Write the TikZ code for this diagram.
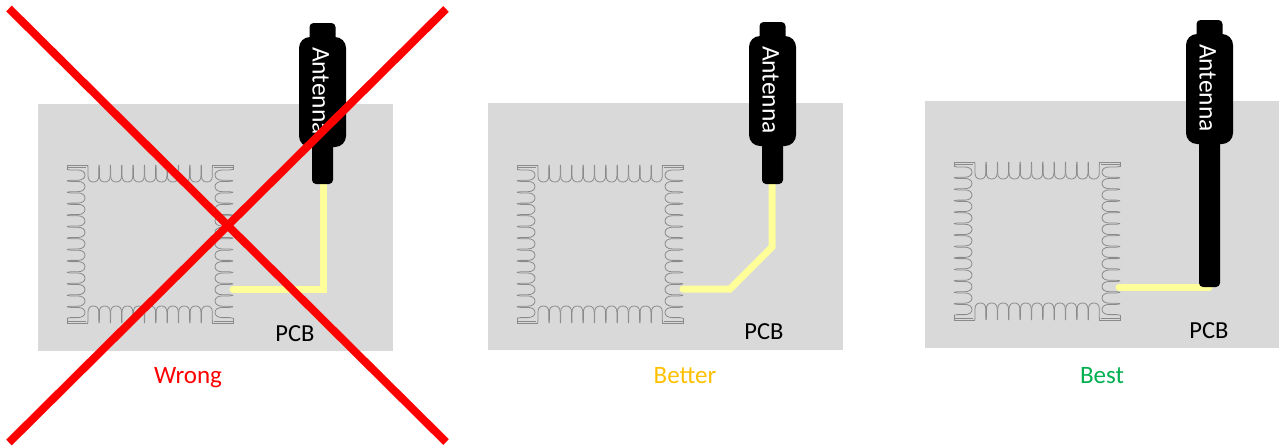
\documentclass[tikz,border=0pt]{standalone}
\usepackage{fontspec}
\setmainfont{Carlito}
\definecolor{pcbgrey}{HTML}{D9D9D9}
\definecolor{trace}{HTML}{FFFF99}
\definecolor{castgrey}{HTML}{8A8A8A}
\definecolor{better}{HTML}{FFC000}
\definecolor{best}{HTML}{00B050}
\tikzset{
  pcb/.style={fill=pcbgrey,draw=none,inner sep=0pt,outer sep=0pt,minimum width=355pt,minimum height=247pt,anchor=north west},
  pcblabel/.style={font=\fontsize{24.5}{26}\selectfont,text=black,inner sep=0pt,anchor=base},
  caption/.style={font=\fontsize{25}{27}\selectfont,inner sep=0pt,anchor=base},
  tracewire/.style={draw=trace,line width=7pt,line cap=round,line join=miter},
  antcap/.style={fill=black,rounded corners=4pt},
  antbody/.style={fill=black,rounded corners=11pt},
  antstem/.style={fill=black,rounded corners=4pt},
  anttext/.style={rotate=-90,text=white,font=\fontsize{25.5}{27}\selectfont,inner sep=0pt,anchor=base},
  cross/.style={draw=red,line width=8pt},
  cast/.style={draw=castgrey,line width=0.8pt,fill=none},
  pics/module/.style={code={
    % outline corners
    \draw[cast] (0,5) -- (0,0) -- (21,0);
    \draw[cast] (0,2) -- (19,2);
    \draw[cast] (145,0) -- (166,0) -- (166,5);
    \draw[cast] (147,2) -- (166,2);
    \draw[cast] (0,153) -- (0,158) -- (21,158);
    \draw[cast] (0,156) -- (19,156);
    \draw[cast] (145,158) -- (166,158) -- (166,153);
    \draw[cast] (147,156) -- (166,156);
    % top and bottom castellations
    \foreach \i in {0,...,10} {
      \pgfmathsetmacro{\a}{21+11.35*\i}
      \pgfmathsetmacro{\b}{\a+10.8}
      \pgfmathsetmacro{\m}{\a+5.4}
      \draw[cast] (\a-.3,0) .. controls (\a,1) .. (\a,3) -- (\a,11) .. controls (\a,15) and (\a+2,17) .. (\m,17) .. controls (\b-2,17) and (\b,15) .. (\b,11) -- (\b,3) .. controls (\b,1) .. (\b+.3,0);
      \draw[cast] (\a-.3,158) .. controls (\a,157) .. (\a,155) -- (\a,147) .. controls (\a,143) and (\a+2,141) .. (\m,141) .. controls (\b-2,141) and (\b,143) .. (\b,147) -- (\b,155) .. controls (\b,157) .. (\b+.3,158);
    }
    % left and right castellations
    \foreach \i in {0,...,12} {
      \pgfmathsetmacro{\a}{5+11.45*\i}
      \pgfmathsetmacro{\b}{\a+10.2}
      \pgfmathsetmacro{\m}{\a+5.1}
      \draw[cast] (0,\a-.6) .. controls (1.5,\a) .. (3.5,\a) -- (11,\a) .. controls (15,\a) and (18,\a+2) .. (18,\m) .. controls (18,\b-2) and (15,\b) .. (11,\b) -- (3.5,\b) .. controls (1.5,\b) .. (0,\b+.6);
      \draw[cast] (166,\a-.6) .. controls (164.5,\a) .. (162.5,\a) -- (155,\a) .. controls (151,\a) and (148,\a+2) .. (148,\m) .. controls (148,\b-2) and (151,\b) .. (155,\b) -- (162.5,\b) .. controls (164.5,\b) .. (166,\b+.6);
    }
  }},
  pics/antenna/.style={code={
    % origin: top-left of the body; stem length given as argument
    \fill[antcap] (10.5,-14) rectangle (36.5,6);
    \fill[antstem] (13,100) rectangle (34,100+#1);
    \fill[antbody] (0,0) rectangle (47,110);
    \node[anttext] (-label) at (13.5,54) {Antenna};
  }},
}
\begin{document}
\begin{tikzpicture}[x=1pt,y=-1pt]
\useasboundingbox (0,0) rectangle (1279,447);
\fill[white] (0,0) rectangle (1279,447);
% Boards
\node[pcb] (pcbA) at (38,104) {};
\node[pcb] (pcbB) at (488,103) {};
\node[pcb] (pcbC) at (925,101) {};
% Modules
\pic at (67,165) {module};
\pic at (517,165) {module};
\pic at (954,162) {module};
% Trace end points
\coordinate (a1) at (233,289);
\coordinate (a2) at (323,289);
\coordinate (a3) at (323,180);
\coordinate (b1) at (683,289);
\coordinate (b2) at (730,289);
\coordinate (b3) at (772,247);
\coordinate (b4) at (772,180);
\coordinate (c1) at (1119,287);
\coordinate (c2) at (1209,287);
\draw[tracewire] (a1) -- (a2) -- (a3);
\draw[tracewire] (b1) -- (b2) -- (b3) -- (b4);
\draw[tracewire] (c1) -- (c2);
% Antennas
\pic (antA) at (299,37) {antenna={47}};
\pic (antB) at (749,36) {antenna={48}};
\pic (antC) at (1186,34) {antenna={153}};
% Labels
\node[pcblabel] (lblA) at (295,341) {PCB};
\node[pcblabel] (lblB) at (764,339) {PCB};
\node[pcblabel] (lblC) at (1209,338) {PCB};
\node[caption,text=red] (capA) at (188,383) {Wrong};
\node[caption,text=better] (capB) at (685,383) {Better};
\node[caption,text=best] (capC) at (1102,383) {Best};
% Cross
\coordinate (x1) at (9,8.5);
\coordinate (x2) at (446,442);
\coordinate (x3) at (446,9);
\coordinate (x4) at (9,442.5);
\draw[cross] (x1) -- (x2);
\draw[cross] (x3) -- (x4);
\end{tikzpicture}
\end{document}
